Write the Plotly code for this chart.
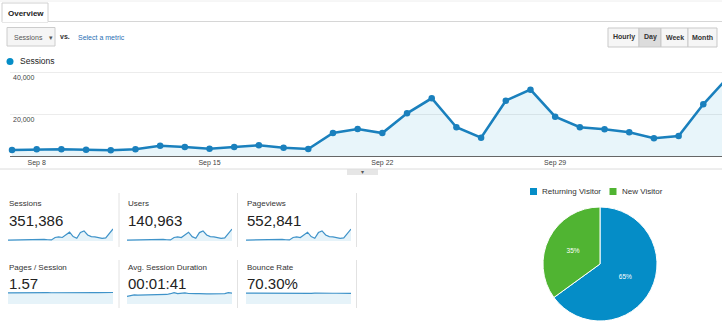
import plotly.graph_objects as go

W, H = 722, 327
FONT = "Liberation Sans, Arial, Helvetica, sans-serif"

# ---------------- data ----------------
dates = ["2014-09-07", "2014-09-08", "2014-09-09", "2014-09-10", "2014-09-11", "2014-09-12",
         "2014-09-13", "2014-09-14", "2014-09-15", "2014-09-16", "2014-09-17", "2014-09-18",
         "2014-09-19", "2014-09-20", "2014-09-21", "2014-09-22", "2014-09-23", "2014-09-24",
         "2014-09-25", "2014-09-26", "2014-09-27", "2014-09-28", "2014-09-29", "2014-09-30",
         "2014-10-01", "2014-10-02", "2014-10-03", "2014-10-04", "2014-10-05", "2014-10-06"]
sessions = [2900, 3230, 3230, 3040, 2750, 3230, 4960, 4340, 3520, 4340, 5160, 4000, 3370, 11080,
            13000, 11080, 20580, 27800, 13830, 8820, 26650, 31950, 18940, 13830, 12870, 11420,
            8530, 9640, 24900, 37900]
users = [1180, 1300, 1290, 1230, 1120, 1310, 1990, 1750, 1420, 1740, 2070, 1610, 1360, 4450,
         5210, 4440, 8240, 11130, 5540, 3540, 10680, 12800, 7590, 5550, 5160, 4580, 3420, 3870,
         9980, 15190]
pageviews = [4580, 5100, 5110, 4800, 4350, 5110, 7840, 6860, 5560, 6860, 8150, 6320, 5320, 17500,
             20540, 17510, 32520, 43920, 21850, 13940, 42110, 50480, 29930, 21850, 20330, 18040,
             13480, 15230, 39340, 59880]
pages_per_session = [1.55, 1.56, 1.56, 1.55, 1.54, 1.56, 1.57, 1.57, 1.56, 1.57, 1.58, 1.57, 1.56,
                     1.57, 1.58, 1.57, 1.58, 1.58, 1.57, 1.57, 1.58, 1.58, 1.58, 1.58, 1.58, 1.58,
                     1.58, 1.58, 1.59, 1.59]
avg_duration_sec = [70, 80, 84, 82, 83, 82, 81, 84, 83, 86, 87, 88, 95, 104, 96, 98, 102, 97, 99,
                    96, 95, 97, 94, 93, 92, 93, 92, 96, 105, 101]
bounce_rate = [71.5, 71.2, 71.3, 71.4, 71.6, 71.2, 70.8, 71.0, 71.1, 70.9, 70.6, 70.9, 71.0, 70.2,
               69.8, 70.1, 69.6, 69.4, 70.0, 70.5, 69.5, 69.3, 69.7, 70.0, 70.2, 70.3, 70.6, 70.4,
               69.8, 69.5]

x_tick_vals = ["2014-09-08", "2014-09-15", "2014-09-22", "2014-09-29"]
x_tick_text = ["Sep 8", "Sep 15", "Sep 22", "Sep 29"]
y_tick_vals = [20000, 40000]
y_tick_text = ["20,000", "40,000"]

card_titles = ["Sessions", "Users", "Pageviews", "Pages / Session", "Avg. Session Duration", "Bounce Rate"]
card_values = ["351,386", "140,963", "552,841", "1.57", "00:01:41", "70.30%"]
card_series = [sessions, users, pageviews, pages_per_session, avg_duration_sec, bounce_rate]
card_ymax = [41000, 16500, 65000, 1.8, 120, 85]

visitor_types = ["Returning Visitor", "New Visitor"]
visitor_share = [65, 35]
visitor_colors = ["#058dc7", "#50b432"]

period_buttons = ["Hourly", "Day", "Week", "Month"]


# ---------------- helpers ----------------
def px(x):
    return x / W


def py(y):
    return 1 - y / H


BLUE = "#1a80bd"
shapes = []
annotations = []


def text(x, y, s, size=8, color="#333", anchor="left", bold=False):
    annotations.append(dict(
        x=px(x), y=py(y), xref="paper", yref="paper", xanchor=anchor, yanchor="middle",
        text=("<b>%s</b>" % s) if bold else s, showarrow=False,
        font=dict(size=size, color=color, family=FONT)))


def rect(x0, y0, x1, y1, fill="#fff", line="#ccc", width=1):
    shapes.append(dict(type="rect", xref="paper", yref="paper",
                       x0=px(x0), x1=px(x1), y0=py(y0), y1=py(y1),
                       fillcolor=fill, line=dict(color=line, width=width), layer="below"))


def hline(x0, x1, y, color="#ddd"):
    shapes.append(dict(type="line", xref="paper", yref="paper",
                       x0=px(x0), x1=px(x1), y0=py(y), y1=py(y),
                       line=dict(color=color, width=1)))


def vline(x, y0, y1, color="#e2e2e2"):
    shapes.append(dict(type="line", xref="paper", yref="paper",
                       x0=px(x), x1=px(x), y0=py(y0), y1=py(y1),
                       line=dict(color=color, width=1)))


fig = go.Figure()

# ---------------- main chart ----------------
fig.add_trace(go.Scatter(
    x=dates, y=sessions, mode="lines+markers", fill="tozeroy",
    fillcolor="rgba(5,141,199,0.09)",
    line=dict(color=BLUE, width=2.6), marker=dict(size=6.5, color=BLUE),
    cliponaxis=False, showlegend=False, hoverinfo="skip", xaxis="x", yaxis="y"))

layout_axes = dict(
    xaxis=dict(domain=[px(10), 1], range=["2014-09-06 22:03", "2014-10-05 18:11"],
               tickvals=x_tick_vals, ticktext=x_tick_text, ticks="",
               tickfont=dict(size=7, color="#444", family=FONT),
               showgrid=False, showline=True, linecolor="#666", linewidth=1,
               zeroline=False, anchor="y", fixedrange=True),
    yaxis=dict(domain=[py(156), py(68.8)], range=[0, 42000],
               tickvals=y_tick_vals, ticktext=y_tick_text,
               ticklabelposition="inside bottom",
               tickfont=dict(size=7, color="#444", family=FONT),
               showgrid=True, gridcolor="#ececec", gridwidth=1,
               showline=False, zeroline=False, anchor="x", fixedrange=True),
)

# ---------------- sparkline cards ----------------
col_x = [(8, 113), (127, 232), (246, 351)]
row_y = [(228, 241), (291, 304)]
col_text_x = [7, 126, 245]
row_label_y = [203, 267]
row_value_y = [220, 283.5]

for i, series in enumerate(card_series):
    r, c = divmod(i, 3)
    n = i + 2
    xa, ya = "x%d" % n, "y%d" % n
    fig.add_trace(go.Scatter(
        x=dates, y=series, mode="lines", fill="tozeroy",
        fillcolor="rgba(5,141,199,0.10)", line=dict(color="#3f93c9", width=1.2),
        showlegend=False, hoverinfo="skip", xaxis=xa, yaxis=ya))
    layout_axes["xaxis%d" % n] = dict(domain=[px(col_x[c][0]), px(col_x[c][1])],
                                      range=[dates[0], dates[-1]], visible=False,
                                      anchor=ya, fixedrange=True)
    layout_axes["yaxis%d" % n] = dict(domain=[py(row_y[r][1]), py(row_y[r][0])],
                                      range=[0, card_ymax[i]], visible=False,
                                      anchor=xa, fixedrange=True)
    text(col_text_x[c], row_label_y[r], card_titles[i], size=8, color="#333")
    text(col_text_x[c] - 0.5, row_value_y[r], card_values[i], size=15, color="#222")

for xs in (119, 237.5, 356.5):
    vline(xs, 193, 247)
    vline(xs, 260, 308)

# ---------------- pie ----------------
fig.add_trace(go.Pie(
    labels=visitor_types, values=visitor_share, sort=False, direction="clockwise",
    rotation=0, marker=dict(colors=visitor_colors, line=dict(color="#fff", width=1)),
    textinfo="percent", texttemplate="%{percent:.0%}", textposition="inside",
    insidetextorientation="horizontal",
    textfont=dict(size=6.5, color="#fff", family=FONT),
    domain=dict(x=[px(543), px(657)], y=[py(321), py(207)]),
    showlegend=False, hoverinfo="skip"))

# pie legend
rect(530, 188, 537, 195, fill=visitor_colors[0], line=visitor_colors[0], width=0)
text(540, 191.5, visitor_types[0], size=8, color="#333")
rect(609.5, 188, 616.5, 195, fill=visitor_colors[1], line=visitor_colors[1], width=0)
text(619.5, 191.5, visitor_types[1], size=8, color="#333")

# ---------------- header UI ----------------
hline(0, 722, 1, color="#eeeeee")
hline(48, 722, 21.5, color="#d6d6d6")
rect(2, 3, 48, 22, fill="#ffffff", line="#d0d0d0")
hline(2.5, 47.5, 21.5, color="#ffffff")
text(6, 13, "Overview", size=8, color="#222", bold=True)

rect(7, 27.5, 55, 46, fill="#f5f5f5", line="#cccccc")
text(11.5, 37, "Sessions", size=7, color="#555")
text(47, 37, "▾", size=7, color="#555")
text(57.5, 36.5, "vs.", size=7, color="#333", bold=True)
text(75.5, 37, "Select a metric", size=7, color="#2a6fb4")

btn_edges = [608, 639, 661, 688, 717]
for i, lab in enumerate(period_buttons):
    fill = "#dcdcdc" if lab == "Day" else "#f6f6f6"
    rect(btn_edges[i], 28, btn_edges[i + 1], 47, fill=fill, line="#c9c9c9")
    text((btn_edges[i] + btn_edges[i + 1]) / 2, 37.5, lab, size=7, color="#333",
         anchor="center", bold=True)

# series legend
shapes.append(dict(type="circle", xref="paper", yref="paper",
                   x0=px(6.5), x1=px(13.5), y0=py(65), y1=py(58),
                   fillcolor="#058dc7", line=dict(width=0)))
text(17.5, 61.5, "Sessions", size=8.5, color="#222")

# collapse bar
hline(0, 722, 169, color="#dcdcdc")
rect(347, 169, 378, 175, fill="#e6e6e6", line="#e6e6e6", width=0)
text(362.5, 171.5, "▾", size=6, color="#555", anchor="center")

fig.update_layout(
    width=W, height=H, autosize=False,
    margin=dict(l=0, r=0, t=0, b=0),
    paper_bgcolor="#ffffff", plot_bgcolor="rgba(0,0,0,0)",
    font=dict(family=FONT, color="#333"),
    shapes=shapes, annotations=annotations, showlegend=False,
    **layout_axes)

fig.write_html("out.html", config={"displayModeBar": False, "staticPlot": True})
